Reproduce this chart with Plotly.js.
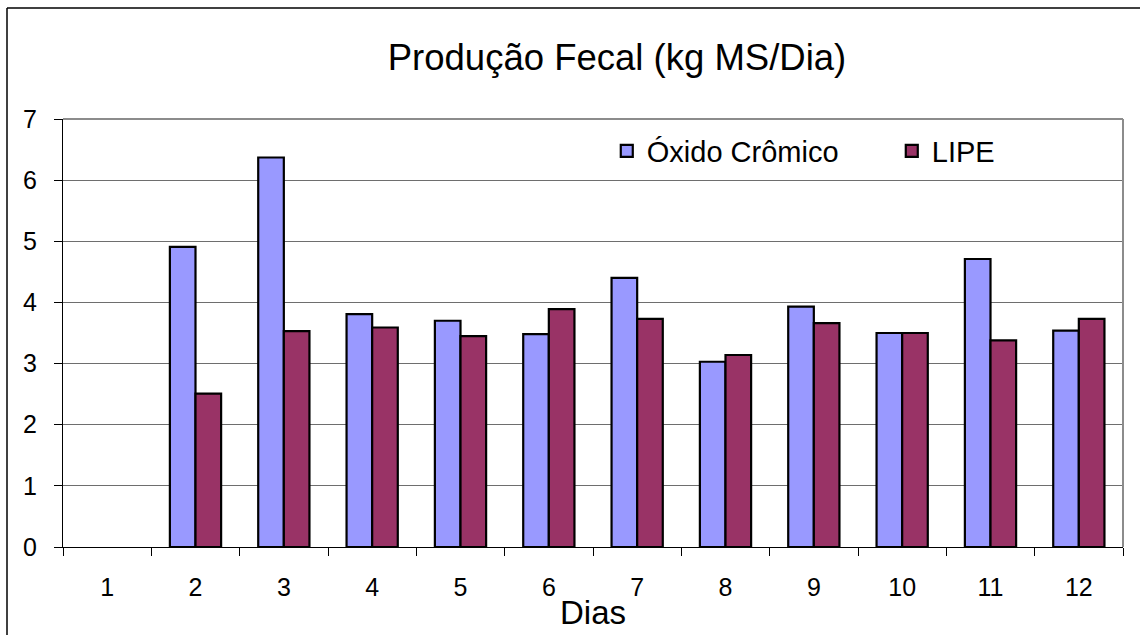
<!DOCTYPE html>
<html>
<head>
<meta charset="utf-8">
<script src="https://cdn.plot.ly/plotly-3.0.1.min.js"></script>
<style>
  html, body { margin: 0; padding: 0; background: #fff; }
  #chart { width: 1140px; height: 635px; }
</style>
</head>
<body>
<div id="chart"></div>
<script>
const dias = ["1", "2", "3", "4", "5", "6", "7", "8", "9", "10", "11", "12"];
const oxidoCromico = [null, 4.91, 6.37, 3.81, 3.70, 3.48, 4.40, 3.03, 3.93, 3.50, 4.71, 3.54];
const lipe = [null, 2.51, 3.53, 3.59, 3.45, 3.89, 3.73, 3.14, 3.66, 3.50, 3.38, 3.73];
const yTicks = [0, 1, 2, 3, 4, 5, 6, 7];

const FONT = "Liberation Sans, Arial, Helvetica, sans-serif";

const traces = [
  {
    type: "bar", name: "Óxido Crômico", x: dias, y: oxidoCromico,
    marker: { color: "#9999FF", line: { color: "#000000", width: 2.2 } },
    hoverinfo: "x+y+name"
  },
  {
    type: "bar", name: "LIPE", x: dias, y: lipe,
    marker: { color: "#993366", line: { color: "#000000", width: 2.2 } },
    hoverinfo: "x+y+name"
  }
];

const layout = {
  width: 1140, height: 635,
  margin: { l: 63, r: 17, t: 119, b: 88, autoexpand: false },
  paper_bgcolor: "#ffffff", plot_bgcolor: "#ffffff",
  font: { family: FONT, color: "#000000", size: 25 },
  barmode: "group", bargap: 0.42, bargroupgap: 0,
  title: {
    text: "Produção Fecal (kg MS/Dia)",
    font: { family: FONT, size: 36.5, color: "#000" },
    x: 617 / 1140, xref: "container", xanchor: "center",
    y: 1 - 57 / 635, yref: "container", yanchor: "middle"
  },
  xaxis: {
    type: "category",
    tickson: "boundaries",
    ticks: "outside", ticklen: 8, tickwidth: 1, tickcolor: "#000",
    showline: true, linecolor: "#000", linewidth: 1,
    showgrid: false, zeroline: false,
    ticklabelstandoff: 18,
    tickfont: { family: FONT, size: 25 },
    title: { text: "Dias", font: { family: FONT, size: 33 }, standoff: 0 },
    automargin: false
  },
  yaxis: {
    range: [0, 7], tickvals: yTicks, ticktext: yTicks.map(String),
    ticks: "outside", ticklen: 8, tickwidth: 1, tickcolor: "#000",
    showline: true, linecolor: "#000", linewidth: 1,
    showgrid: true, gridcolor: "#6e6e6e", gridwidth: 1,
    zeroline: false,
    ticklabelstandoff: 12,
    tickfont: { family: FONT, size: 25 },
    automargin: false
  },
  legend: {
    orientation: "h", x: 0.513, xanchor: "left", y: 0.925, yanchor: "middle",
    bgcolor: "rgba(0,0,0,0)", borderwidth: 0,
    font: { family: FONT, size: 29 },
    entrywidth: 240, entrywidthmode: "pixels",
    traceorder: "normal"
  },
  shapes: [
    { type: "line", xref: "paper", yref: "paper", x0: 0, x1: 1, y0: 1, y1: 1, line: { color: "#8c8c8c", width: 2 } },
    { type: "line", xref: "paper", yref: "paper", x0: 1, x1: 1, y0: 0, y1: 1, line: { color: "#8c8c8c", width: 2 } },
    { type: "line", xref: "paper", yref: "paper", x0: -56 / 1060, x1: 1.05, y0: 539 / 428, y1: 539 / 428, line: { color: "#000", width: 1.5 } },
    { type: "line", xref: "paper", yref: "paper", x0: -56 / 1060, x1: -56 / 1060, y0: -0.25, y1: 539 / 428, line: { color: "#000", width: 1.5 } }
  ],
  showlegend: true
};

Plotly.newPlot("chart", traces, layout, { displayModeBar: false, staticPlot: true });
</script>
</body>
</html>
